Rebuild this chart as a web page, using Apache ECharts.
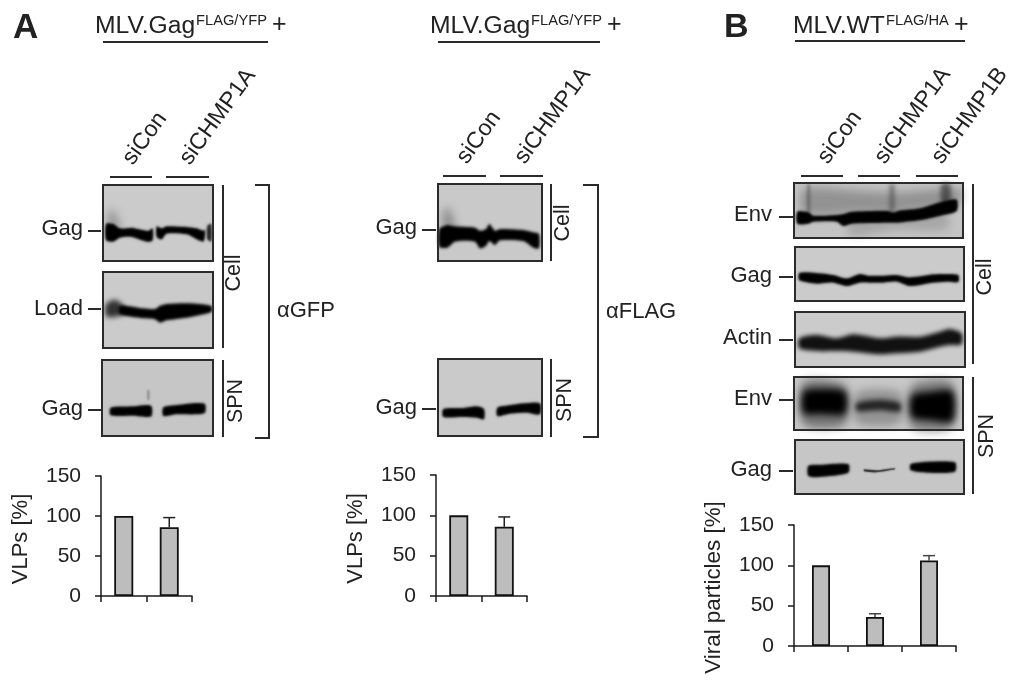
<!DOCTYPE html>
<html><head><meta charset="utf-8">
<style>html,body{margin:0;padding:0;background:#fff}#c{width:1024px;height:689px}</style>
<script src="https://cdn.jsdelivr.net/npm/echarts@6/dist/echarts.min.js"></script>
</head><body><div id="c"></div>
<script>
// ---- chart values ----
const catsA = ['siCon', 'siCHMP1A'];
const catsB = ['siCon', 'siCHMP1A', 'siCHMP1B'];
const vlpGfp = [100, 86];
const vlpGfpErr = [null, 98];
const vlpFlag = [100, 86];
const vlpFlagErr = [null, 98];
const viral = [100, 36, 106];
const viralErr = [null, 40, 112];
const yTicks = { min: 0, max: 150, step: 50 };

// ---- layout helpers ----
const FONT = '"Liberation Sans", Arial, sans-serif', INK = '#222';
const g = [];
const txt = (t, x, y, o = {}) => g.push({ type: 'text', x, y, rotation: (o.rot || 0) * Math.PI / 180, silent: true,
  style: { text: t, fill: o.fill || INK, font: `${o.bold ? 'bold ' : ''}${o.fs || 22}px ${FONT}`, align: o.align || 'left', verticalAlign: o.va || 'middle' }, z: 5 });
const line = (x1, y1, x2, y2, w = 2) => g.push({ type: 'line', silent: true, shape: { x1, y1, x2, y2 }, style: { stroke: '#2a2a2a', lineWidth: w }, z: 9 });
const panel = (x1, y1, x2, y2, fill = '#cbcbcb') => {
  g.push({ type: 'rect', silent: true, shape: { x: x1, y: y1, width: x2 - x1, height: y2 - y1 }, style: { fill }, z: 6 });
  g.push({ type: 'rect', silent: true, shape: { x: x1, y: y1, width: x2 - x1, height: y2 - y1 }, style: { fill: 'none', stroke: '#2b2b2b', lineWidth: 2 }, z: 9 });
};
// profile points are [x, top, bottom] in 3x-crop coordinates with the crop origin ox, oy.
// The shape sits off-canvas and only its blurred shadow lands on the panel, so every band has soft edges.
const OFF = 3000;
const band = (ox, oy, pts, o = {}) => {
  const gr = o.grow == null ? 3 : o.grow;
  const up = pts.map(p => [ox + p[0] / 3 - OFF, oy + (p[1] - gr) / 3]);
  const dn = pts.slice().reverse().map(p => [ox + p[0] / 3 - OFF, oy + (p[2] + gr) / 3]);
  g.push({ type: 'polygon', silent: true, shape: { points: up.concat(dn), smooth: 0.25 },
    style: { fill: '#000', opacity: o.op == null ? 1 : o.op, shadowBlur: o.blur == null ? 2.5 : o.blur, shadowColor: o.fill || '#000', shadowOffsetX: OFF }, z: 7 });
};
const head = (main, sup, x, supX, ux1, ux2, uy, plusX) => {
  txt(main, x, 26.5, { fs: 24.7 });
  txt(sup, supX, 21, { fs: 14.7 });
  txt('+', plusX, 25, { fs: 25 });
  line(ux1, uy, ux2, uy, 2);
};
const rotLab = (t, x, y) => txt(t, x, y, { rot: 54, fs: 23, va: 'bottom' });
const hTick = (x1, x2, y) => line(x1, y, x2, y, 2);

// ---- panel letters and headers ----
txt('A', 13, 28, { fs: 35, bold: true });
txt('B', 724, 28, { fs: 34, bold: true });
head('MLV.Gag', 'FLAG/YFP', 95, 196, 103, 268, 42, 272);
head('MLV.Gag', 'FLAG/YFP', 430, 531, 438, 600, 42, 607);
head('MLV.WT', 'FLAG/HA', 793, 886, 795, 965, 41, 954);

// ---- blot block 1 : alpha GFP ----
[['siCon', 137], ['siCHMP1A', 194]].forEach(a => rotLab(a[0], a[1], 169));
line(110, 177, 152, 177); line(166, 177, 209, 177);
panel(103, 185, 213, 261); panel(103, 272, 213, 348); panel(102, 360, 213, 436, '#c6c6c6');
band(0, 170, [[325, 130, 170], [340, 122, 172], [360, 165, 180]], { op: .35, fill: '#333', blur: 8 });
band(0, 170, [[318, 165, 208], [340, 165, 212], [360, 178, 200], [395, 176, 198], [425, 182, 208], [445, 185, 213], [458, 178, 208]]);
band(0, 170, [[470, 172, 198], [485, 178, 205], [500, 172, 188], [560, 174, 190], [590, 178, 205], [610, 185, 212], [615, 182, 195]]);
band(0, 170, [[622, 170, 205], [634, 165, 212]], { fill: '#222' });
band(0, 170, [[318, 405, 436], [345, 392, 438], [370, 410, 430]], { fill: '#333', blur: 5 });
band(0, 170, [[360, 410, 430], [430, 418, 442], [465, 420, 445], [480, 410, 455], [500, 405, 448], [560, 403, 440], [600, 405, 432], [635, 412, 422]], { blur: 3 });
band(0, 170, [[332, 716, 733], [400, 712, 734], [440, 708, 738], [455, 712, 735]]);
band(0, 170, [[490, 715, 735], [530, 708, 730], [590, 702, 730], [615, 705, 725]]);
band(0, 170, [[442, 660, 690], [448, 660, 690]], { op: .4, fill: '#444', blur: 2, grow: 0 });
txt('Gag', 83, 229, { align: 'right' }); hTick(88, 101, 231);
txt('Load', 83, 309, { align: 'right' }); hTick(88, 101, 309);
txt('Gag', 83, 409, { align: 'right' }); hTick(88, 101, 410);
line(223, 185, 223, 348); line(223, 360, 223, 437);
txt('Cell', 234, 273, { rot: 90, align: 'center', fs: 21.5 });
txt('SPN', 236, 401, { rot: 90, align: 'center', fs: 21.5 });
line(255, 185, 270, 185); line(269, 184, 269, 439); line(255, 438, 270, 438);
txt('αGFP', 277, 311);

// ---- blot block 2 : alpha FLAG ----
[['siCon', 471], ['siCHMP1A', 529]].forEach(a => rotLab(a[0], a[1], 168));
line(443, 176, 486, 176); line(500, 176, 543, 176);
panel(438, 184, 542, 261, '#c9c9c9'); panel(438, 359, 542, 436, '#cacaca');
band(360, 170, [[250, 130, 175], [265, 115, 175], [285, 165, 180]], { op: .4, fill: '#333', blur: 8 });
band(360, 170, [[238, 180, 228], [262, 168, 230], [285, 172, 212], [345, 176, 212], [360, 185, 232], [378, 180, 225], [388, 165, 210], [405, 185, 222], [420, 180, 208], [490, 183, 210], [520, 190, 230], [537, 195, 232]], { blur: 3 });
band(360, 170, [[250, 720, 738], [310, 717, 738], [350, 712, 740], [372, 720, 745]]);
band(360, 170, [[412, 716, 735], [450, 708, 728], [500, 702, 725], [540, 703, 730]]);
txt('Gag', 417, 228, { align: 'right' }); hTick(422, 436, 230);
txt('Gag', 417, 408, { align: 'right' }); hTick(422, 436, 409);
line(551, 184, 551, 261); line(551, 359, 551, 437);
txt('Cell', 563, 223, { rot: 90, align: 'center', fs: 21.5 });
txt('SPN', 565, 400, { rot: 90, align: 'center', fs: 21.5 });
line(583, 185, 599, 185); line(598, 184, 598, 438); line(583, 437, 599, 437);
txt('αFLAG', 606, 312);

// ---- blot block 3 : panel B ----
[['siCon', 832], ['siCHMP1A', 889], ['siCHMP1B', 946]].forEach(a => rotLab(a[0], a[1], 168));
line(801, 176, 843, 176); line(858, 176, 900, 176); line(916, 176, 958, 176);
panel(794, 183, 963, 238, '#c4c4c4'); panel(795, 247, 964, 301); panel(795, 312, 965, 367); panel(794, 377, 963, 430, '#c8c8c8'); panel(795, 440, 964, 494, '#c6c6c6');
const Bx = 720, By = 170;
band(Bx, By, [[250, 60, 130], [420, 65, 125], [530, 70, 125], [720, 60, 95]], { op: .3, fill: '#222', blur: 10 });
band(Bx, By, [[390, 150, 195], [530, 150, 175], [680, 130, 175]], { op: .2, fill: '#333', blur: 8 });
band(Bx, By, [[262, 45, 130], [270, 45, 130]], { op: .4, fill: '#333', blur: 3 });
band(Bx, By, [[510, 45, 130], [522, 45, 130]], { op: .5, fill: '#333', blur: 4 });
band(Bx, By, [[665, 45, 100], [690, 45, 100]], { op: .6, fill: '#222', blur: 4 });
band(Bx, By, [[232, 128, 158], [265, 130, 158], [280, 140, 152], [350, 138, 152], [370, 135, 165], [395, 128, 158], [500, 125, 155], [520, 130, 155], [535, 125, 155], [600, 118, 148], [660, 100, 135], [710, 92, 120]]);
band(Bx, By, [[238, 312, 328], [290, 312, 338], [340, 318, 335], [380, 328, 345], [420, 315, 335], [445, 320, 335], [490, 320, 335], [530, 318, 332], [570, 325, 345], [640, 316, 335], [680, 315, 332], [715, 318, 333]]);
band(Bx, By, [[238, 510, 530], [290, 500, 538], [350, 510, 538], [400, 498, 540], [480, 510, 548], [530, 505, 545], [600, 505, 540], [660, 490, 525], [690, 482, 520], [725, 495, 518]], { fill: '#111', blur: 4, grow: 5 });
band(Bx, By, [[250, 640, 760], [375, 650, 760]], { op: .5, fill: '#222', blur: 9 });
band(Bx, By, [[250, 668, 726], [300, 660, 730], [375, 668, 728]], { blur: 7 });
band(Bx, By, [[410, 670, 755], [540, 670, 755]], { op: .35, fill: '#333', blur: 9 });
band(Bx, By, [[410, 702, 720], [480, 692, 718], [540, 702, 722]], { fill: '#111', op: .85, blur: 5 });
band(Bx, By, [[575, 650, 770], [695, 640, 770]], { op: .45, fill: '#222', blur: 9 });
band(Bx, By, [[575, 680, 738], [630, 668, 748], [698, 668, 750]], { blur: 7 });
band(Bx, By, [[265, 890, 915], [300, 887, 918], [385, 885, 905]]);
band(Bx, By, [[432, 898, 904], [470, 901, 907], [525, 894, 898]], { fill: '#222', blur: 1.5, grow: 0 });
band(Bx, By, [[572, 885, 898], [620, 878, 905], [705, 880, 902]]);
[['Env', 215, 217], ['Gag', 276, 277], ['Actin', 338, 340], ['Env', 399, 400], ['Gag', 470, 471]].forEach(a => {
  txt(a[0], 772, a[1], { align: 'right' }); hTick(779, 793, a[2]);
});
line(973, 184, 973, 364); line(973, 377, 973, 494);
txt('Cell', 985, 277, { rot: 90, align: 'center', fs: 21.5 });
txt('SPN', 987, 436, { rot: 90, align: 'center', fs: 21.5 });

// ---- bar charts ----
const charts = [
  { cats: catsA, vals: vlpGfp, err: vlpGfpErr, name: 'VLPs [%]', box: [101, 476, 91, 120], bw: 19, gap: 69, fs: 22, pad: 6, errC: '#222' },
  { cats: catsA, vals: vlpFlag, err: vlpFlagErr, name: 'VLPs [%]', box: [436, 475, 91, 121], bw: 19, gap: 69, fs: 22, pad: 6, errC: '#222' },
  { cats: catsB, vals: viral, err: viralErr, name: 'Viral particles [%]', box: [794, 525, 162, 121], bw: 18, gap: 69, fs: 22.4, pad: 4, errC: '#444' }
];
const tickStyle = { color: '#1a1a1a', width: 1.5 };
const option = {
  animation: false, backgroundColor: '#fff', graphic: g,
  grid: charts.map(c => ({ left: c.box[0], top: c.box[1], width: c.box[2], height: c.box[3] })),
  xAxis: charts.map((c, i) => ({ type: 'category', gridIndex: i, data: c.cats, axisLabel: { show: false, interval: 0 },
    axisLine: { lineStyle: tickStyle, onZero: false }, axisTick: { show: true, interval: 0, length: 6, lineStyle: tickStyle } })),
  yAxis: charts.map((c, i) => ({ type: 'value', gridIndex: i, min: yTicks.min, max: yTicks.max, interval: yTicks.step,
    name: c.name, nameLocation: 'middle', nameGap: c.gap, nameTextStyle: { fontFamily: FONT, fontSize: c.fs, color: INK, padding: [0, c.pad, 0, 0] },
    axisLine: { show: true, lineStyle: tickStyle }, axisTick: { show: true, length: 6, lineStyle: tickStyle },
    axisLabel: { fontFamily: FONT, fontSize: 21, color: INK, margin: 20 }, splitLine: { show: false } })),
  series: charts.flatMap((c, i) => [
    { type: 'bar', xAxisIndex: i, yAxisIndex: i, data: c.vals, barWidth: c.bw, silent: true, z: 3,
      itemStyle: { color: '#bdbdbd', borderColor: '#111', borderWidth: 1.8 } },
    { type: 'custom', xAxisIndex: i, yAxisIndex: i, silent: true, z: 2,
      data: c.err.map((e, k) => [k, c.vals[k], e]),
      renderItem: (p, api) => {
        if (api.value(2) == null || isNaN(api.value(2))) return null;
        const a = api.coord([api.value(0), api.value(1)]), b = api.coord([api.value(0), api.value(2)]);
        const st = { stroke: c.errC, lineWidth: 1.5, fill: null };
        return { type: 'group', children: [
          { type: 'line', shape: { x1: a[0], y1: a[1], x2: b[0], y2: b[1] }, style: st },
          { type: 'line', shape: { x1: a[0] - 6, y1: b[1], x2: a[0] + 6, y2: b[1] }, style: st }
        ] };
      } }
  ])
};
echarts.init(document.getElementById('c'), null, { renderer: 'canvas' }).setOption(option);
</script></body></html>
